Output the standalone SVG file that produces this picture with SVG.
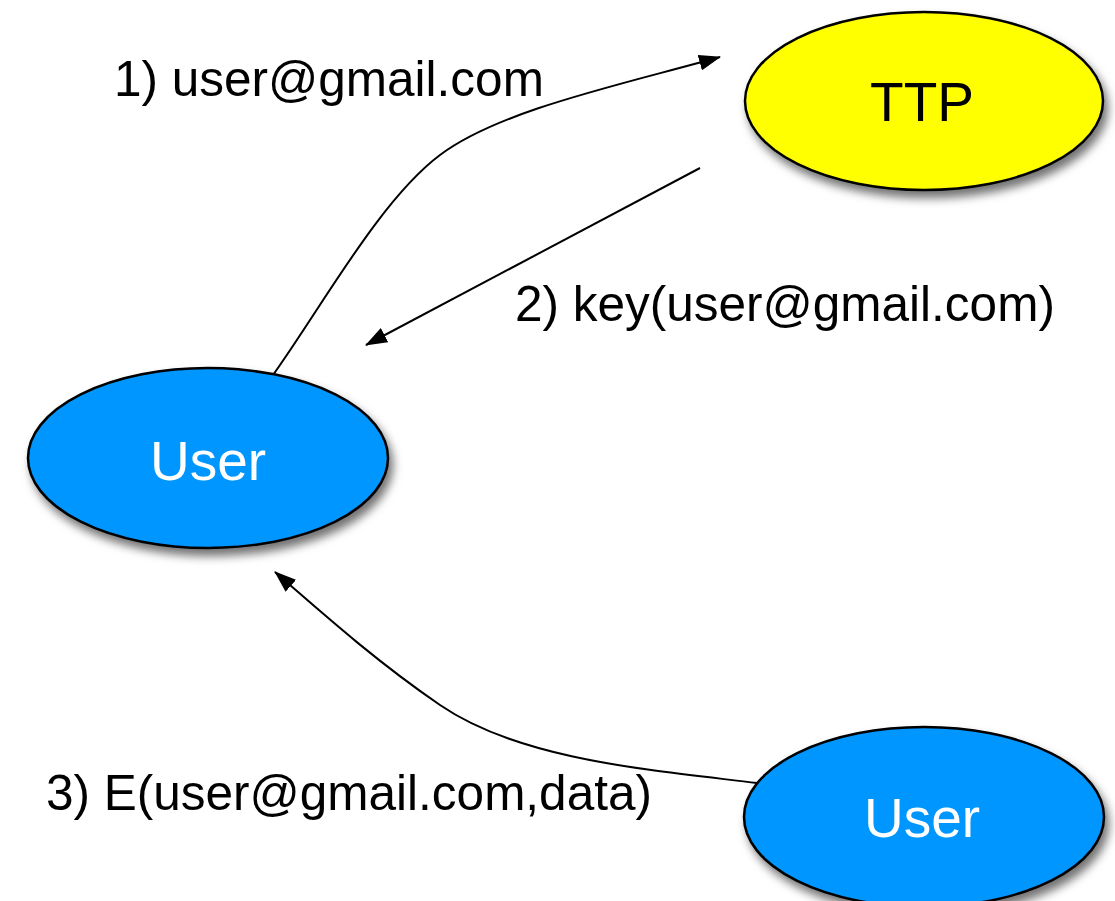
<svg xmlns="http://www.w3.org/2000/svg" width="1115" height="901" viewBox="0 0 1115 901">
  <style>
    .node { stroke: #000; stroke-width: 2.5; filter: url(#shadow); }
    .ttp { fill: #FFFF00; }
    .user { fill: #0096FF; }
    .nlabel { font-family: "Liberation Sans", Arial, sans-serif; font-size: 55px; text-anchor: middle; }
    .elabel { font-family: "Liberation Sans", Arial, sans-serif; font-size: 49.5px; fill: #000; }
    .edge { fill: none; stroke: #000; stroke-width: 2; marker-end: url(#arrowhead); }
  </style>
  <defs>
    <filter id="shadow" x="-20%" y="-20%" width="150%" height="160%">
      <feDropShadow dx="4" dy="7" stdDeviation="5" flood-color="#000" flood-opacity="0.55"/>
    </filter>
    <marker id="arrowhead" viewBox="0 0 22 16" refX="21" refY="8" markerWidth="22" markerHeight="16" markerUnits="userSpaceOnUse" orient="auto">
      <path d="M0,0 L22,8 L0,16 z" fill="#000"/>
    </marker>
  </defs>

  <g id="edges">
    <path class="edge" d="M273,375 C323,305 380,200 440,155 C500,110 620,85 720,57"/>
    <path class="edge" d="M700,168 L366,345"/>
    <path class="edge" d="M757,783 C650,770 520,760 440,705 C380,664 330,620 275,572"/>
    <text class="elabel" x="114" y="96">1) user@gmail.com</text>
    <text class="elabel" x="515" y="321">2) key(user@gmail.com)</text>
    <text class="elabel" x="46" y="810">3) E(user@gmail.com,data)</text>
  </g>

  <g id="node-ttp">
    <ellipse class="node ttp" cx="924" cy="101" rx="179" ry="89"/>
    <text class="nlabel" x="922" y="121" fill="#000">TTP</text>
  </g>

  <g id="node-user">
    <ellipse class="node user" cx="208" cy="458" rx="180" ry="90"/>
    <text class="nlabel" x="208" y="480" fill="#fff">User</text>
  </g>

  <g id="node-sender">
    <ellipse class="node user" cx="924" cy="817" rx="180" ry="90"/>
    <text class="nlabel" x="922" y="837" fill="#fff">User</text>
  </g>
</svg>
